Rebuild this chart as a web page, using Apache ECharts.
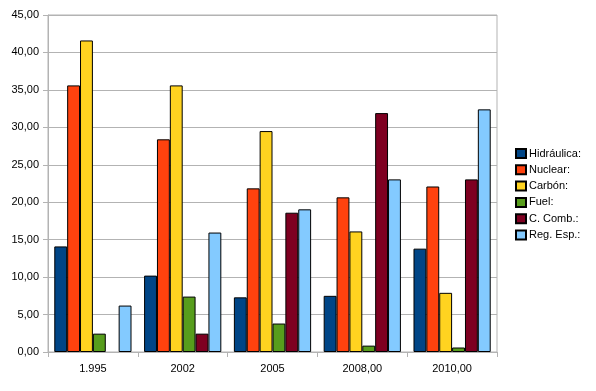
<!DOCTYPE html>
<html><head><meta charset="utf-8">
<script src="https://cdn.jsdelivr.net/npm/echarts@6/dist/echarts.min.js"></script>
<style>html,body{margin:0;padding:0;background:#fff}#c{width:596px;height:391px}</style>
</head><body><div id="c"></div>
<script>
const categories = ['1.995', '2002', '2005', '2008,00', '2010,00'];
const seriesNames = ['Hidráulica:', 'Nuclear:', 'Carbón:', 'Fuel:', 'C. Comb.:', 'Reg. Esp.:'];
const hidraulica = [14.1, 10.2, 7.3, 7.5, 13.8];
const nuclear = [35.6, 28.4, 21.85, 20.65, 22.1];
const carbon = [41.6, 35.6, 29.5, 16.1, 7.9];
const fuel = [2.45, 7.4, 3.8, 0.85, 0.6];
const cComb = [null, 2.45, 18.6, 31.9, 23.05];
const regEsp = [6.2, 15.95, 19.05, 23.05, 32.4];
const colors = ['#004586', '#ff420e', '#ffd320', '#579d1c', '#7e0021', '#83caff'];
const allData = [hidraulica, nuclear, carbon, fuel, cComb, regEsp];
const font = '"Liberation Sans", Arial, sans-serif';

const chart = echarts.init(document.getElementById('c'), null, {renderer: 'canvas'});
chart.setOption({
  animation: false,
  color: colors,
  grid: {left: 48, right: 99, top: 15, bottom: 39, show: true, borderColor: '#b3b3b3', borderWidth: 1},
  legend: {
    orient: 'vertical', left: 510, top: 143,
    itemWidth: 10, itemHeight: 9, itemGap: 5.3, icon: 'rect',
    textStyle: {fontFamily: font, fontSize: 11, color: '#000', padding: [0, 0, 0, -2]},
    data: seriesNames
  },
  xAxis: {
    type: 'category', data: categories,
    axisLine: {lineStyle: {color: '#b3b3b3'}},
    axisTick: {show: true, length: 5, lineStyle: {color: '#b3b3b3'}},
    axisLabel: {fontFamily: font, fontSize: 11, color: '#000', margin: 11}
  },
  yAxis: {
    type: 'value', min: 0, max: 45, interval: 5,
    axisLine: {show: true, lineStyle: {color: '#b3b3b3'}},
    axisTick: {show: true, length: 5, lineStyle: {color: '#b3b3b3'}},
    splitLine: {lineStyle: {color: '#b3b3b3'}},
    axisLabel: {fontFamily: font, fontSize: 11, color: '#000', margin: 9,
      formatter: v => v.toFixed(2).replace('.', ',')}
  },
  series: seriesNames.map((n, i) => ({
    name: n, type: 'bar', data: allData[i],
    barGap: '0%', barCategoryGap: '14%',
    itemStyle: {borderColor: '#000', borderWidth: 1}
  }))
});
</script></body></html>
